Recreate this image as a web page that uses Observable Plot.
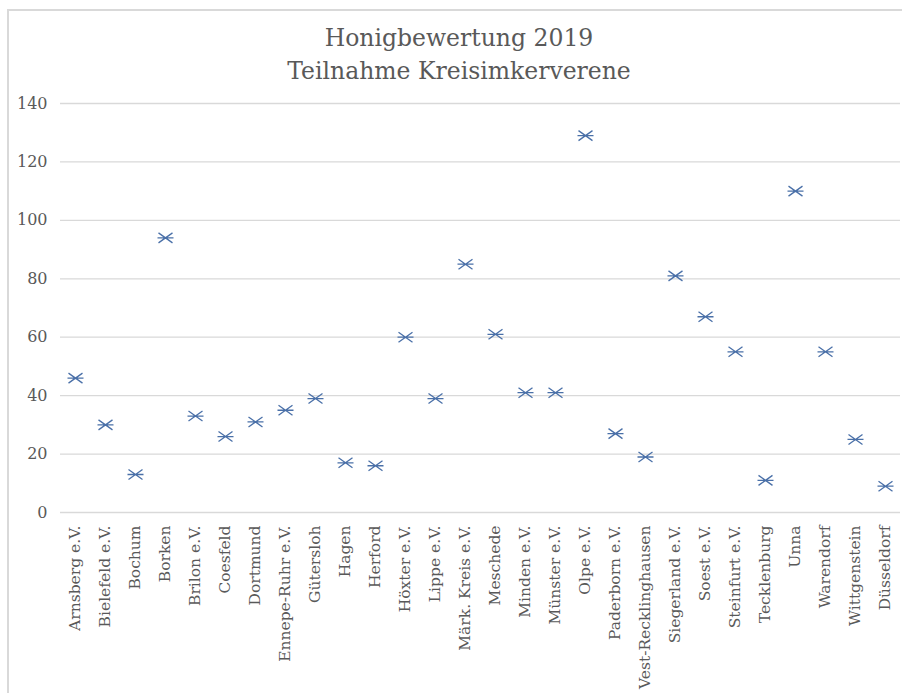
<!DOCTYPE html>
<html>
<head>
<meta charset="utf-8">
<script src="https://cdn.jsdelivr.net/npm/d3@7"></script>
<script src="https://cdn.jsdelivr.net/npm/@observablehq/plot@0.6"></script>
<style>
  html, body { margin: 0; padding: 0; background: #fff; }
  #wrap { position: relative; width: 902px; height: 693px; overflow: hidden; }
  #frame { position: absolute; left: 7px; top: 9px; width: 900px; height: 700px; border-left: 2px solid #d9d9d9; border-top: 2px solid #d9d9d9; box-sizing: border-box; }
  #title { position: absolute; left: 7px; width: 904px; top: 22px; text-align: center; font-family: "DejaVu Serif", serif; font-size: 23.5px; line-height: 33px; color: #595959; }
  #chart { position: absolute; left: 0; top: 0; }
</style>
</head>
<body>
<div id="wrap">
  <div id="frame"></div>
  <div id="chart"></div>
  <div id="title">Honigbewertung 2019<br>Teilnahme Kreisimkerverene</div>
</div>
<script>
const categories = ["Arnsberg e.V.", "Bielefeld e.V.", "Bochum", "Borken", "Brilon e.V.", "Coesfeld", "Dortmund", "Ennepe-Ruhr e.V.", "Gütersloh", "Hagen", "Herford", "Höxter e.V.", "Lippe e.V.", "Märk. Kreis e.V.", "Meschede", "Minden e.V.", "Münster e.V.", "Olpe e.V.", "Paderborn e.V.", "Vest-Recklinghausen", "Siegerland e.V.", "Soest e.V.", "Steinfurt e.V.", "Tecklenburg", "Unna", "Warendorf", "Wittgenstein", "Düsseldorf"];
const values = [46, 30, 13, 94, 33, 26, 31, 35, 39, 17, 16, 60, 39, 85, 61, 41, 41, 129, 27, 19, 81, 67, 55, 11, 110, 55, 25, 9];
const yTicks = [0, 20, 40, 60, 80, 100, 120, 140];

const data = categories.map((c, i) => ({name: c, value: values[i]}));

// Excel-style star marker: horizontal bar with an X
const star = {
  draw(context, size) {
    const w = 8, dx = 7, dy = 5;
    context.moveTo(-w, 0); context.lineTo(w, 0);
    context.moveTo(-dx, -dy); context.lineTo(dx, dy);
    context.moveTo(-dx, dy); context.lineTo(dx, -dy);
  }
};

const chart = Plot.plot({
  width: 902,
  height: 693,
  marginLeft: 60,
  marginRight: 2,
  marginTop: 103,
  marginBottom: 181,
  style: {background: "transparent", fontFamily: "DejaVu Serif, serif", fontSize: "16px", color: "#595959"},
  x: {type: "band", domain: categories, padding: 0, label: null},
  y: {domain: [0, 140], label: null},
  marks: [
    Plot.ruleY(yTicks, {stroke: "#d9d9d9", strokeWidth: 1.3}),
    Plot.axisY({ticks: yTicks, tickSize: 0, tickPadding: 13, label: null, fontSize: 16}),
    Plot.axisX({tickSize: 0, tickRotate: -90, tickPadding: 13, label: null, fontSize: 15.5}),
    Plot.dot(data, {x: "name", y: "value", symbol: star, stroke: "#4a70a8", strokeWidth: 1.3, r: 8})
  ]
});
document.getElementById("chart").appendChild(chart);
</script>
</body>
</html>
